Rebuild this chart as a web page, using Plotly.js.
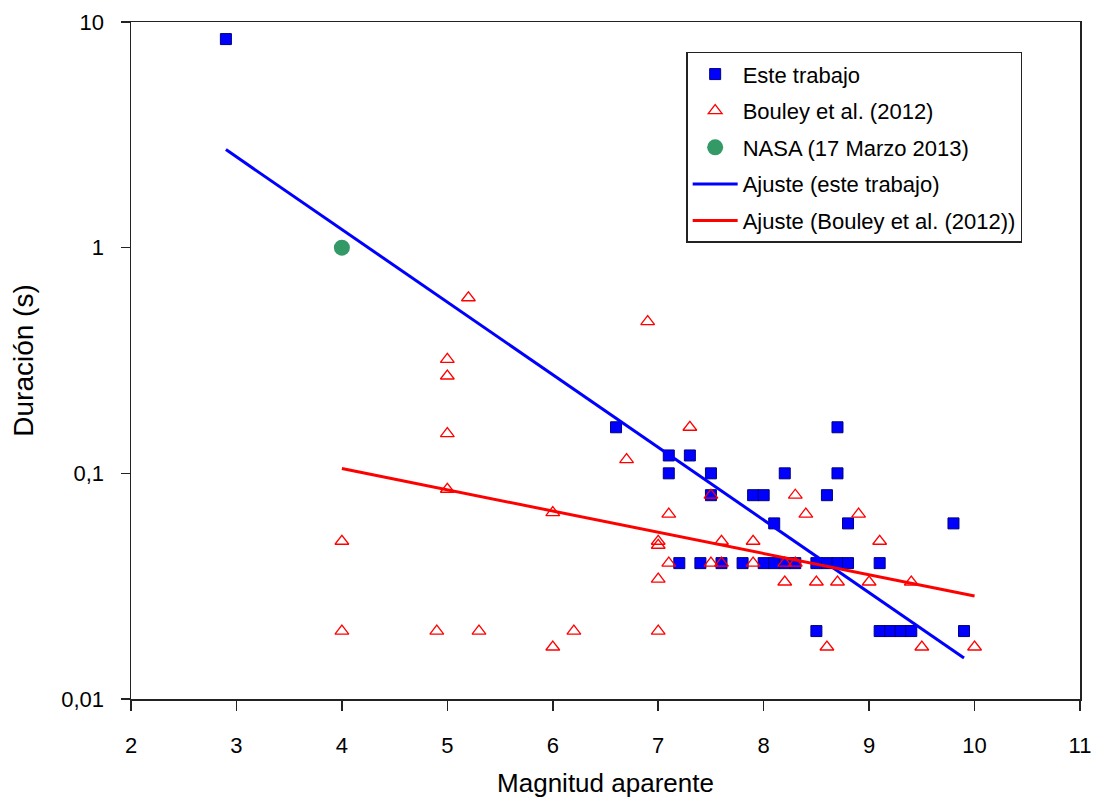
<!DOCTYPE html>
<html>
<head>
<meta charset="utf-8">
<script src="https://cdn.plot.ly/plotly-3.0.1.min.js"></script>
<style>html,body{margin:0;padding:0;background:#fff;}#chart{width:1097px;height:805px;}</style>
</head>
<body>
<div id="chart"></div>
<script>
// Este trabajo
const esteX = [2.9, 6.6, 7.1, 7.3, 7.1, 7.5, 8.2, 8.7, 8.7, 7.5, 7.9, 8.0, 8.6, 8.1, 8.8, 9.8,
  7.2, 7.4, 7.6, 7.8, 8.0, 8.1, 8.2, 8.3, 8.5, 8.6, 8.7, 8.8, 9.1,
  8.5, 9.1, 9.2, 9.3, 9.4, 9.9];
const esteY = [8.4, 0.16, 0.12, 0.12, 0.10, 0.10, 0.10, 0.16, 0.10, 0.08, 0.08, 0.08, 0.08, 0.06, 0.06, 0.06,
  0.04, 0.04, 0.04, 0.04, 0.04, 0.04, 0.04, 0.04, 0.04, 0.04, 0.04, 0.04, 0.04,
  0.02, 0.02, 0.02, 0.02, 0.02, 0.02];

// Bouley et al. (2012)
const bouleyX = [4.0, 4.0, 4.9, 5.0, 5.0, 5.0, 5.0, 5.2, 5.3, 6.0, 6.0, 6.2, 6.7, 6.9,
  7.0, 7.0, 7.0, 7.0, 7.1, 7.1, 7.3, 7.5, 7.5, 7.6, 7.6, 7.9, 7.9, 8.2, 8.2, 8.3, 8.3,
  8.4, 8.5, 8.6, 8.7, 8.9, 9.0, 9.1, 9.4, 9.5, 10.0];
const bouleyY = [0.05, 0.02, 0.02, 0.32, 0.27, 0.15, 0.085, 0.60, 0.02, 0.067, 0.017, 0.02, 0.115, 0.47,
  0.05, 0.048, 0.034, 0.02, 0.066, 0.04, 0.16, 0.08, 0.04, 0.05, 0.04, 0.05, 0.04, 0.04, 0.033, 0.08, 0.04,
  0.066, 0.033, 0.017, 0.033, 0.066, 0.033, 0.05, 0.033, 0.017, 0.017];

// NASA (17 Marzo 2013)
const nasaX = [4.0];
const nasaY = [1.0];

// Ajustes
const fitEsteX = [2.9, 9.9];
const fitEsteY = [2.72, 0.0152];
const fitBouleyX = [4.0, 10.0];
const fitBouleyY = [0.105, 0.0286];

// Ticks
const yTickVals = [0.01, 0.1, 1, 10];
const yTickText = ['0,01', '0,1', '1', '10'];

const FONT = 'Liberation Sans, Arial, sans-serif';

const traces = [
  {x: esteX, y: esteY, mode: 'markers', type: 'scatter', name: 'Este trabajo', legendgroup: 'a',
   marker: {symbol: 'square', size: 11, color: '#0000FF', line: {color: '#000080', width: 1}}},
  {x: bouleyX, y: bouleyY, mode: 'markers', type: 'scatter', name: 'Bouley et al. (2012)', legendgroup: 'b',
   marker: {symbol: 'triangle-up-open', size: 12, color: '#FF0000', line: {color: '#FF0000', width: 1.3}}},
  {x: nasaX, y: nasaY, mode: 'markers', type: 'scatter', name: 'NASA (17 Marzo 2013)', legendgroup: 'c',
   marker: {symbol: 'circle', size: 16, color: '#339966'}},
  {x: fitEsteX, y: fitEsteY, mode: 'lines', type: 'scatter', name: 'Ajuste (este trabajo)', legendgroup: 'd',
   line: {color: '#0000FF', width: 3}},
  {x: fitBouleyX, y: fitBouleyY, mode: 'lines', type: 'scatter', name: 'Ajuste (Bouley et al. (2012))', legendgroup: 'e',
   line: {color: '#FF0000', width: 3}}
];

const layout = {
  width: 1097, height: 805,
  margin: {l: 131, r: 17, t: 22, b: 106},
  paper_bgcolor: '#ffffff', plot_bgcolor: '#ffffff',
  font: {family: FONT, color: '#000000', size: 22},
  showlegend: true,
  legend: {
    x: 0.585, y: 0.956, xanchor: 'left', yanchor: 'top',
    bgcolor: '#ffffff', bordercolor: '#222222', borderwidth: 1.5,
    font: {family: FONT, size: 22, color: '#000000'},
    tracegroupgap: 5, itemwidth: 45
  },
  xaxis: {
    range: [2, 11], dtick: 1, tick0: 2,
    showgrid: false, zeroline: false,
    showline: true, linecolor: '#222222', linewidth: 1.5, mirror: true,
    ticks: 'outside', ticklen: 10, tickwidth: 1.5, tickcolor: '#222222',
    ticklabelstandoff: 16,
    tickfont: {family: FONT, size: 22, color: '#000000'},
    title: {text: 'Magnitud aparente', font: {family: FONT, size: 26, color: '#000000'}, standoff: 17}
  },
  yaxis: {
    type: 'log', range: [-2, 1],
    tickvals: yTickVals, ticktext: yTickText,
    showgrid: false, zeroline: false,
    showline: true, linecolor: '#222222', linewidth: 1.5, mirror: true,
    ticks: 'outside', ticklen: 9, tickwidth: 1.5, tickcolor: '#222222',
    ticklabelstandoff: 12,
    tickfont: {family: FONT, size: 22, color: '#000000'},
    title: {text: 'Duración (s)', font: {family: FONT, size: 28, color: '#000000'}, standoff: 19}
  }
};

Plotly.newPlot('chart', traces, layout, {displayModeBar: false, staticPlot: true});
</script>
</body>
</html>
